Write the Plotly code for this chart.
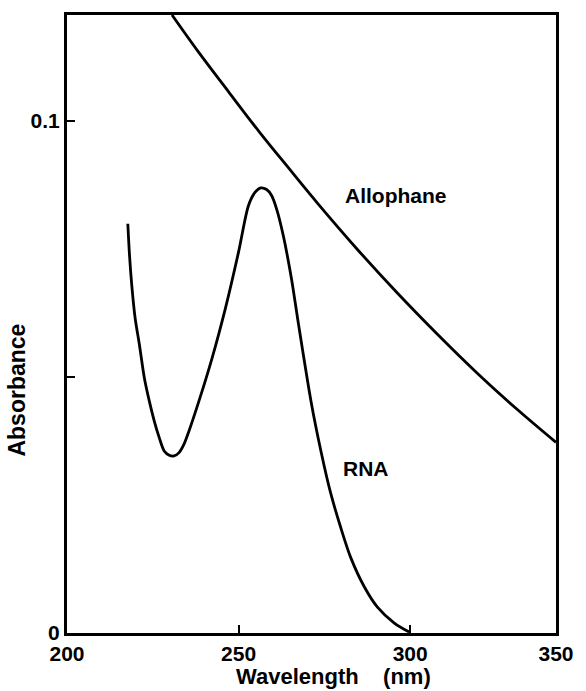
import plotly.graph_objects as go

# RNA spectrum (wavelength nm, absorbance)
rna_wl = [217.72, 218.21, 218.87, 219.86, 221.10, 222.54, 223.99, 225.43, 226.88, 228.32, 229.77,
          231.21, 232.66, 234.10, 235.55, 238.44, 242.28, 246.16, 250.00, 252.89, 254.83, 256.45,
          258.18, 259.62, 261.07, 263.01, 265.40, 267.34, 271.10, 273.99, 276.88, 279.77, 282.66,
          286.71, 290.46, 295.38, 299.71]
rna_abs = [0.07987, 0.07379, 0.06790, 0.06142, 0.05625, 0.04977, 0.04524, 0.04136, 0.03812, 0.03553,
           0.03470, 0.03456, 0.03520, 0.03684, 0.03942, 0.04524, 0.05365, 0.06336, 0.07437, 0.08344,
           0.08602, 0.08686, 0.08654, 0.08538, 0.08278, 0.07761, 0.06918, 0.06078, 0.04524, 0.03553,
           0.02718, 0.02058, 0.01476, 0.00893, 0.00505, 0.00194, 0.00019]

# Allophane spectrum
allo_wl = [230.6, 238.4, 247.1, 255.8, 264.5, 273.1, 284.7, 296.2, 307.8, 319.4, 330.9, 342.5]
allo_abs = [0.1206, 0.1133, 0.1056, 0.0980, 0.0908, 0.0838, 0.0748, 0.0664, 0.0584, 0.0508,
            0.0438, 0.0372]

x_tickvals = [200, 250, 300, 342.5]
x_ticktext = ["200", "250", "300", "350"]
y_tickvals = [0, 0.05, 0.1]
y_ticktext = ["0", "", "0.1"]

FONT = "Liberation Sans, Arial, sans-serif"

fig = go.Figure()
fig.add_trace(go.Scatter(x=rna_wl, y=rna_abs, mode="lines",
                         line=dict(color="black", width=2.8, shape="spline", smoothing=0.8),
                         showlegend=False, hoverinfo="skip"))
fig.add_trace(go.Scatter(x=allo_wl, y=allo_abs, mode="lines",
                         line=dict(color="black", width=2.8, shape="spline", smoothing=1.0),
                         showlegend=False, hoverinfo="skip"))

axis_common = dict(ticks="inside", ticklen=8, tickwidth=2, tickcolor="black", showline=True,
                   linecolor="black", linewidth=3, mirror=True, showgrid=False, zeroline=False,
                   tickfont=dict(family=FONT, size=21, color="black", weight="bold"))
fig.update_xaxes(range=[200, 342.5], tickvals=x_tickvals, ticktext=x_ticktext, **axis_common)
fig.update_yaxes(range=[0, 0.1206], tickvals=y_tickvals, ticktext=y_ticktext, **axis_common)

fig.add_annotation(text="Allophane", x=296.0, y=0.0854, showarrow=False,
                   font=dict(family=FONT, size=21, color="black", weight="bold"))
fig.add_annotation(text="RNA", x=287.0, y=0.0322, showarrow=False,
                   font=dict(family=FONT, size=21, color="black", weight="bold"))
fig.add_annotation(text="Absorbance", x=-0.1014, y=0.393, xref="paper", yref="paper", showarrow=False,
                   xanchor="center", yanchor="middle", textangle=-90,
                   font=dict(family=FONT, size=23, color="black", weight="bold"))
fig.add_annotation(text="Wavelength&nbsp;&nbsp;&nbsp;&nbsp;(nm)", x=0.544, y=-0.0705, xref="paper",
                   yref="paper", xanchor="center", yanchor="middle", showarrow=False,
                   font=dict(family=FONT, size=22, color="black", weight="bold"))

fig.update_layout(width=586, height=691, margin=dict(l=67, r=26, t=12, b=58),
                  plot_bgcolor="white", paper_bgcolor="white")

fig.write_html("out.html")
